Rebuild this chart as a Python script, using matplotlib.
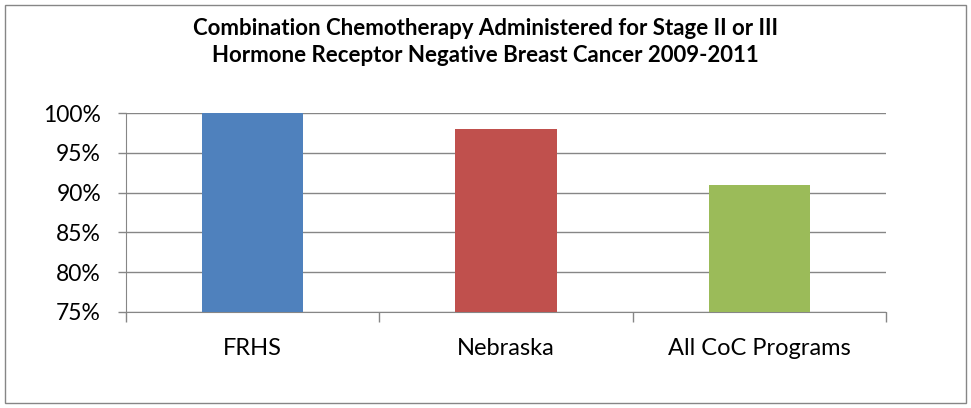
import matplotlib.pyplot as plt
from matplotlib.ticker import FuncFormatter
from matplotlib.patches import Rectangle

categories = ["FRHS", "Nebraska", "All CoC Programs"]
values = [100, 98, 91]
colors = ["#4F81BD", "#C0504D", "#9BBB59"]
y_ticks = [75, 80, 85, 90, 95, 100]

plt.rcParams["font.family"] = ["Lato", "DejaVu Sans"]

fig = plt.figure(figsize=(9.71, 4.08), dpi=100)
# outer chart border
fig.patches.append(Rectangle((0.005, 0.012), 0.99, 0.976, transform=fig.transFigure,
                             fill=False, edgecolor="#868686", linewidth=1))

ax = fig.add_axes([0.1298, 0.2353, 0.7827, 0.4877])
x = list(range(len(categories)))
ax.bar(x, values, width=0.4, color=colors, zorder=3)

ax.set_xlim(-0.5, 2.5)
ax.set_ylim(75, 100)
ax.set_yticks(y_ticks)
ax.yaxis.set_major_formatter(FuncFormatter(lambda v, p: f"{v:.0f}%"))
ax.grid(axis="y", color="#868686", linewidth=1, zorder=0)

# tick marks at category boundaries, labels at centres
ax.set_xticks([-0.5, 0.5, 1.5, 2.5])
ax.set_xticklabels([])
ax.set_xticks(x, minor=True)
ax.set_xticklabels(categories, minor=True, fontsize=17)
ax.tick_params(axis="x", which="major", length=7, color="#868686", width=1, direction="out")
ax.tick_params(axis="x", which="minor", length=0, pad=19)
ax.tick_params(axis="y", length=6, color="#868686", width=1, labelsize=16.5, pad=12)

for s in ["top", "right"]:
    ax.spines[s].set_visible(False)
for s in ["left", "bottom"]:
    ax.spines[s].set_color("#868686")

fig.text(0.5, 0.955, "Combination Chemotherapy Administered for Stage II or III\n"
         "Hormone Receptor Negative Breast Cancer 2009-2011",
         ha="center", va="top", fontsize=16, fontweight="bold", linespacing=1.35)

fig.savefig("out.png", dpi=100)
